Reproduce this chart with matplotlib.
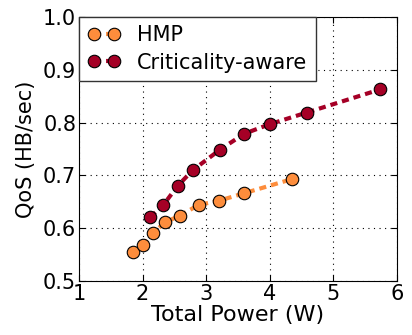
import matplotlib
matplotlib.use("Agg")
import matplotlib.pyplot as plt

# values
hmp_power = [1.85, 2.01, 2.16, 2.35, 2.59, 2.88, 3.20, 3.59, 4.35]
hmp_qos = [0.554, 0.568, 0.590, 0.611, 0.624, 0.644, 0.652, 0.666, 0.693]
crit_power = [2.12, 2.32, 2.55, 2.79, 3.22, 3.60, 4.00, 4.58, 5.74]
crit_qos = [0.621, 0.643, 0.680, 0.710, 0.749, 0.779, 0.797, 0.819, 0.863]


def main():
    fig = plt.figure(figsize=(4.12, 3.35), dpi=100)
    ax = fig.add_axes([79 / 412, 1 - 281 / 335, 318 / 412, 264 / 335])

    ax.plot(hmp_power, hmp_qos, color='#fd8d3c', lw=3, dashes=(1.7, 1.2),
            marker='o', markersize=9, markerfacecolor='#fd8d3c',
            markeredgecolor='black', markeredgewidth=0.8, label='HMP')
    ax.plot(crit_power, crit_qos, color='#a50026', lw=3, dashes=(1.7, 1.2),
            marker='o', markersize=9, markerfacecolor='#a50026',
            markeredgecolor='black', markeredgewidth=0.8, label='Criticality-aware')

    ax.set_xlim(1, 6)
    ax.set_ylim(0.5, 1.0)
    ax.set_xticks([1, 2, 3, 4, 5, 6])
    ax.set_yticks([0.5, 0.6, 0.7, 0.8, 0.9, 1.0])
    ax.set_yticklabels(['0.5', '0.6', '0.7', '0.8', '0.9', '1.0'])
    ax.tick_params(direction='in', labelsize=15, top=True, right=True, length=4, pad=2)
    ax.grid(True, color='black', linestyle=(0, (1, 4)), linewidth=0.8)
    ax.set_xlabel('Total Power (W)', fontsize=16, labelpad=1)
    ax.set_ylabel('QoS (HB/sec)', fontsize=15, labelpad=5)

    leg = ax.legend(loc='upper left', fontsize=15, numpoints=2, fancybox=False,
                    borderaxespad=0, handlelength=1.6, handletextpad=0.8,
                    borderpad=0.4, labelspacing=0.35, framealpha=1)
    leg.get_frame().set_edgecolor('#333333')

    plt.savefig('out.png', dpi=100)


if __name__ == "__main__":
    main()
